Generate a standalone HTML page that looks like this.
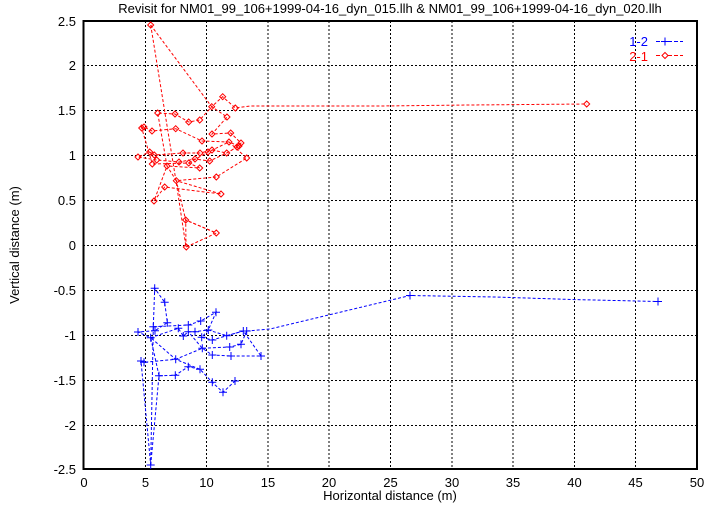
<!DOCTYPE html>
<html><head><meta charset="utf-8"><style>body{margin:0;background:#fff}svg{display:block}text{font-family:"Liberation Sans",sans-serif;font-size:13px}</style></head><body>
<svg width="721" height="505" viewBox="0 0 721 505">
<text x="390" y="13" text-anchor="middle" font-size="12">Revisit for NM01_99_106+1999-04-16_dyn_015.llh &amp; NM01_99_106+1999-04-16_dyn_020.llh</text>
<g stroke="#000" stroke-width="1" stroke-dasharray="2,2">
<line x1="145.5" y1="21" x2="145.5" y2="469"/><line x1="206.5" y1="21" x2="206.5" y2="469"/><line x1="268" y1="21" x2="268" y2="469"/><line x1="329" y1="21" x2="329" y2="469"/><line x1="390.5" y1="21" x2="390.5" y2="469"/><line x1="452" y1="21" x2="452" y2="469"/><line x1="513" y1="21" x2="513" y2="469"/><line x1="574.5" y1="21" x2="574.5" y2="469"/><line x1="635.5" y1="21" x2="635.5" y2="469"/>
<line x1="83" y1="65.5" x2="697" y2="65.5"/><line x1="83" y1="110.5" x2="697" y2="110.5"/><line x1="83" y1="155.5" x2="697" y2="155.5"/><line x1="83" y1="200.5" x2="697" y2="200.5"/><line x1="83" y1="245.5" x2="697" y2="245.5"/><line x1="83" y1="290.5" x2="697" y2="290.5"/><line x1="83" y1="335.5" x2="697" y2="335.5"/><line x1="83" y1="380.5" x2="697" y2="380.5"/><line x1="83" y1="425.5" x2="697" y2="425.5"/>
</g>
<rect x="83.5" y="21" width="613.5" height="448" fill="none" stroke="#000" stroke-width="2"/>
<g font-size="12" text-anchor="end">
<text x="76" y="26">2.5</text><text x="76" y="70">2</text><text x="76" y="115">1.5</text><text x="76" y="160">1</text><text x="76" y="205">0.5</text><text x="76" y="250">0</text><text x="76" y="295">-0.5</text><text x="76" y="340">-1</text><text x="76" y="385">-1.5</text><text x="76" y="430">-2</text><text x="76" y="474">-2.5</text>
</g>
<g font-size="12" text-anchor="middle">
<text x="84" y="487">0</text><text x="145.5" y="487">5</text><text x="206.5" y="487">10</text><text x="268" y="487">15</text><text x="329" y="487">20</text><text x="390.5" y="487">25</text><text x="452" y="487">30</text><text x="513" y="487">35</text><text x="574.5" y="487">40</text><text x="635.5" y="487">45</text><text x="697" y="487">50</text>
</g>
<text x="390" y="500" text-anchor="middle" font-size="12">Horizontal distance (m)</text>
<text transform="translate(19,245) rotate(-90)" text-anchor="middle" font-size="12">Vertical distance (m)</text>
<text x="648" y="46" text-anchor="end" fill="#00f" font-size="13">1-2</text>
<text x="648" y="61" text-anchor="end" fill="#f00" font-size="13">2-1</text>
<line x1="656" y1="41.5" x2="683" y2="41.5" stroke="#00f" stroke-dasharray="4,2"/>
<path d="M661 41.5h8M665 37.5v8" stroke="#00f"/>
<line x1="656" y1="55.5" x2="683" y2="55.5" stroke="#f00" stroke-dasharray="4,2"/>
<path d="M665 52.5l3 3-3 3-3-3z" fill="#fff" stroke="#f00"/>
<polyline fill="none" stroke="#f00" stroke-dasharray="3,2" points="150.7,25 211.7,106.7 222.7,96.7 235.3,108 250,106 380,106 470,105 586.7,104"/>
<polyline fill="none" stroke="#f00" stroke-dasharray="3,2" points="150.7,25 176,181 186,247 185.7,220 216.3,233"/>
<polyline fill="none" stroke="#f00" stroke-dasharray="3,2" points="186.3,247 216.3,233 185.7,220 176.3,180.7 221,194 164.7,187 154,201 167,166 157.7,113 175,114 188.7,122 199.7,120 211.7,106.7 227,117 212,134 230.7,133 241,143 237,147 226.7,153 212,150 200,153 183,153 154.3,155 149.7,152 138,157 156.7,160 179,162 195,159 209.7,161 226.7,153 239,146 229,142 202,141 175.7,128.7 152,131 144,127 141.7,128 152.3,164 188.7,163 199.7,168 167,166 176.3,180.7 216.3,177 246.7,158 229,142 208,152 188.7,163"/>
<g fill="none" stroke="#f00">
<path d="M150.7,22l3,3-3,3-3-3zM222.7,93.7l3,3-3,3-3-3zM211.7,103.7l3,3-3,3-3-3zM235.3,105l3,3-3,3-3-3zM227,114l3,3-3,3-3-3zM157.7,110l3,3-3,3-3-3zM175,111l3,3-3,3-3-3zM188.7,119l3,3-3,3-3-3zM199.7,117l3,3-3,3-3-3zM141.7,125l3,3-3,3-3-3zM144,124l3,3-3,3-3-3zM152,128l3,3-3,3-3-3zM175.7,125.7l3,3-3,3-3-3zM212,131l3,3-3,3-3-3zM230.7,130l3,3-3,3-3-3zM202,138l3,3-3,3-3-3zM229,139l3,3-3,3-3-3zM241,140l3,3-3,3-3-3zM239,143l3,3-3,3-3-3zM237,144l3,3-3,3-3-3zM149.7,149l3,3-3,3-3-3zM138,154l3,3-3,3-3-3zM154.3,152l3,3-3,3-3-3zM183,150l3,3-3,3-3-3zM212,147l3,3-3,3-3-3zM200,150l3,3-3,3-3-3zM208,149l3,3-3,3-3-3zM226.7,150l3,3-3,3-3-3zM246.7,155l3,3-3,3-3-3zM156.7,157l3,3-3,3-3-3zM179,159l3,3-3,3-3-3zM195,156l3,3-3,3-3-3zM209.7,158l3,3-3,3-3-3zM152.3,161l3,3-3,3-3-3zM188.7,160l3,3-3,3-3-3zM167,163l3,3-3,3-3-3zM199.7,165l3,3-3,3-3-3zM216.3,174l3,3-3,3-3-3zM176.3,177.7l3,3-3,3-3-3zM164.7,184l3,3-3,3-3-3zM221,191l3,3-3,3-3-3zM154,198l3,3-3,3-3-3zM185.7,217l3,3-3,3-3-3zM216.3,230l3,3-3,3-3-3zM186.3,244l3,3-3,3-3-3zM586.7,101l3,3-3,3-3-3z"/>
</g>
<polyline fill="none" stroke="#00f" stroke-dasharray="3,2" points="150.7,465 159,375.7 175.3,375.3 188.3,366.7 200,369.3 212.3,382.3 223,392.3 235,381"/>
<polyline fill="none" stroke="#00f" stroke-dasharray="3,2" points="150.7,465 153.3,326.7 154.7,288.3 164.7,302.3 167.3,322.7 155,330.7 138,332 150.7,337.7 178.3,328.3 183.3,336 188.3,331.7 195,331.7 208.3,330 226.7,335.7 243.3,331 246.7,331 241,344.3 229.7,347 202.3,348.3 175.7,359.3 144,362.3 141,361 150.7,465"/>
<polyline fill="none" stroke="#00f" stroke-dasharray="3,2" points="153.3,326.7 188.3,325 200.7,321 216,312.3 208.3,330 201.7,337.3 212.3,340 226.7,335.7 243.3,331 261,356 231,356 212.3,355 202.3,348.3 188.3,331.7"/>
<polyline fill="none" stroke="#00f" stroke-dasharray="3,2" points="159,375.7 150.7,337.7 175.7,359.3 200,369.3"/>
<polyline fill="none" stroke="#00f" stroke-dasharray="3,2" points="246.7,331 270,329 410,295.5 495,297 572,299.5 658,301.5"/>
<g stroke="#00f" fill="none">
<path d="M150.7,288.3h8M154.7,284.3v8M160.7,302.3h8M164.7,298.3v8M163.3,322.7h8M167.3,318.7v8M149.3,326.7h8M153.3,322.7v8M151,330.7h8M155,326.7v8M134,332h8M138,328v8M146.7,337.7h8M150.7,333.7v8M174.3,328.3h8M178.3,324.3v8M179.3,336h8M183.3,332v8M184.3,325h8M188.3,321v8M184.3,331.7h8M188.3,327.7v8M191,331.7h8M195,327.7v8M196.7,321h8M200.7,317v8M212,312.3h8M216,308.3v8M204.3,330h8M208.3,326v8M197.7,337.3h8M201.7,333.3v8M208.3,340h8M212.3,336v8M222.7,335.7h8M226.7,331.7v8M239.3,331h8M243.3,327v8M242.7,331h8M246.7,327v8M237,344.3h8M241,340.3v8M225.7,347h8M229.7,343v8M198.3,348.3h8M202.3,344.3v8M208.3,355h8M212.3,351v8M227,356h8M231,352v8M257,356h8M261,352v8M137,361h8M141,357v8M140,362.3h8M144,358.3v8M171.7,359.3h8M175.7,355.3v8M184.3,366.7h8M188.3,362.7v8M196,369.3h8M200,365.3v8M155,375.7h8M159,371.7v8M171.3,375.3h8M175.3,371.3v8M208.3,382.3h8M212.3,378.3v8M219,392.3h8M223,388.3v8M231,381h8M235,377v8M146.7,465h8M150.7,461v8M406,295.5h8M410,291.5v8M654,301.5h8M658,297.5v8"/>
</g>
</svg>
</body></html>
